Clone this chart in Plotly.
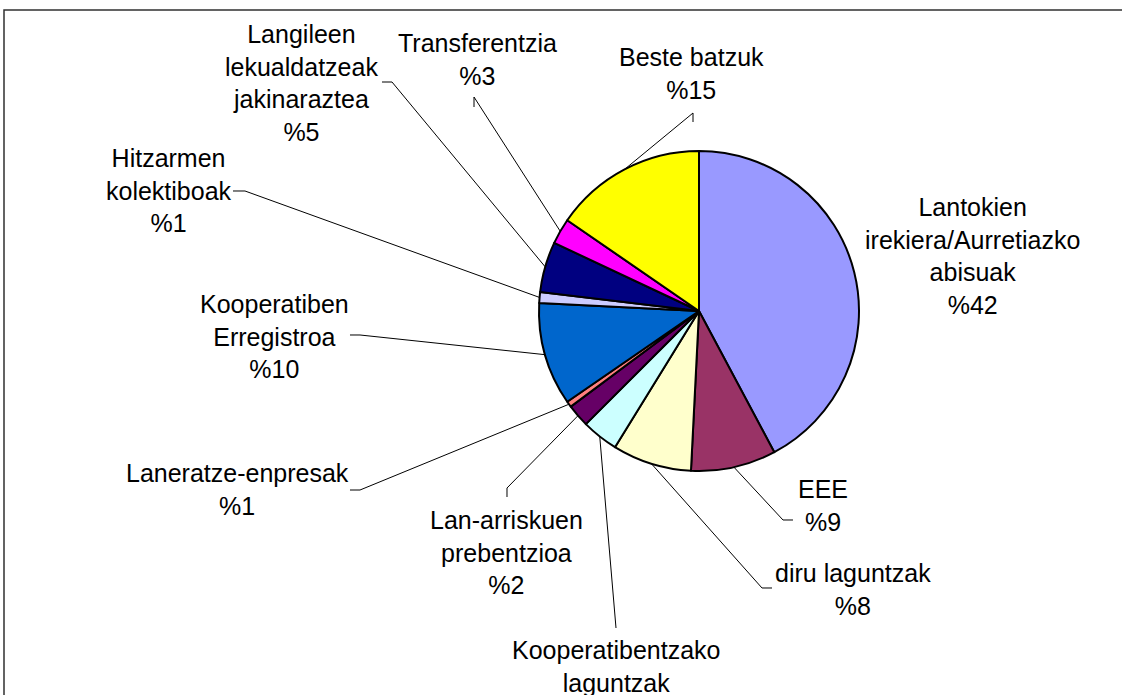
import math
import plotly.graph_objects as go

# ---- data ----
categories = [
    "Lantokien<br>irekiera/Aurretiazko<br>abisuak",
    "EEE",
    "diru laguntzak",
    "Kooperatibentzako<br>laguntzak",
    "Lan-arriskuen<br>prebentzioa",
    "Laneratze-enpresak",
    "Kooperatiben<br>Erregistroa",
    "Hitzarmen<br>kolektiboak",
    "Langileen<br>lekualdatzeak<br>jakinaraztea",
    "Transferentzia",
    "Beste batzuk",
]
values = [42.2, 8.6, 8.0, 3.7, 2.3, 0.6, 10.4, 1.1, 5.1, 2.6, 15.4]
colors = ["#9999FF", "#993366", "#FFFFCC", "#CCFFFF", "#660066", "#FF8080",
          "#0066CC", "#CCCCFF", "#000080", "#FF00FF", "#FFFF00"]

# ---- layout (pixels) ----
W, H = 1122, 695
CX, CY, R = 699, 311, 160

# label centre (x, y) and leader-line start points (pixels); None = no leader
label_pos = [
    (972, 256), (823, 505), (853, 589), (616, 682), (507, 552), (237, 489),
    (274, 336), (169, 191), (301, 83), (477, 59), (692, 74),
]
leader_start = [
    None,
    [(793, 520), (783, 520)],
    [(772, 588), (762, 588)],
    [(616, 628)],
    [(507, 497), (507, 488)],
    [(350, 490), (360, 490)],
    [(350, 335), (360, 335)],
    [(233, 191), (245, 191)],
    [(382, 82), (392, 82)],
    [(474, 107), (474, 97)],
    [(693, 122), (693, 113)],
]
FONT = "Liberation Sans, Arial, sans-serif"


def px(x):
    return x / W


def py(y):
    return 1 - y / H


fig = go.Figure(go.Pie(
    labels=[c.replace("<br>", " ") for c in categories],
    values=values,
    sort=False,
    direction="clockwise",
    rotation=0,
    marker=dict(colors=colors, line=dict(color="black", width=2)),
    textinfo="none",
    hoverinfo="label+percent",
    showlegend=False,
    domain=dict(x=[px(CX - R), px(CX + R)], y=[py(CY + R), py(CY - R)]),
))

total = sum(values)
shapes = [dict(type="rect", xref="paper", yref="paper",
               x0=px(4), y0=py(10), x1=px(W + 20), y1=py(H + 20),
               line=dict(color="#303030", width=1.5), fillcolor="rgba(0,0,0,0)",
               layer="below")]
annotations = []
cum = 0.0
for name, v, (lx, ly), ls in zip(categories, values, label_pos, leader_start):
    mid = (cum + v / 2) / total * 2 * math.pi
    cum += v
    ex = CX + R * math.sin(mid)
    ey = CY - R * math.cos(mid)
    pct = round(v / total * 100)
    annotations.append(dict(
        xref="paper", yref="paper", x=px(lx), y=py(ly),
        xanchor="center", yanchor="middle", showarrow=False, align="center",
        text=f"{name}<br>%{pct}",
        font=dict(family=FONT, size=25, color="black"),
    ))
    if ls:
        pts = ls + [(ex, ey)]
        path = "M " + " L ".join(f"{px(a):.5f},{py(b):.5f}" for a, b in pts)
        shapes.append(dict(type="path", xref="paper", yref="paper", path=path,
                           line=dict(color="black", width=1)))

fig.update_layout(
    width=W, height=H,
    margin=dict(l=0, r=0, t=0, b=0),
    paper_bgcolor="white", plot_bgcolor="white",
    shapes=shapes, annotations=annotations,
)

fig.write_html(
    "out.html",
    config={"displayModeBar": False},
    post_script="document.body.style.margin='0';document.body.style.overflow='hidden';",
)
